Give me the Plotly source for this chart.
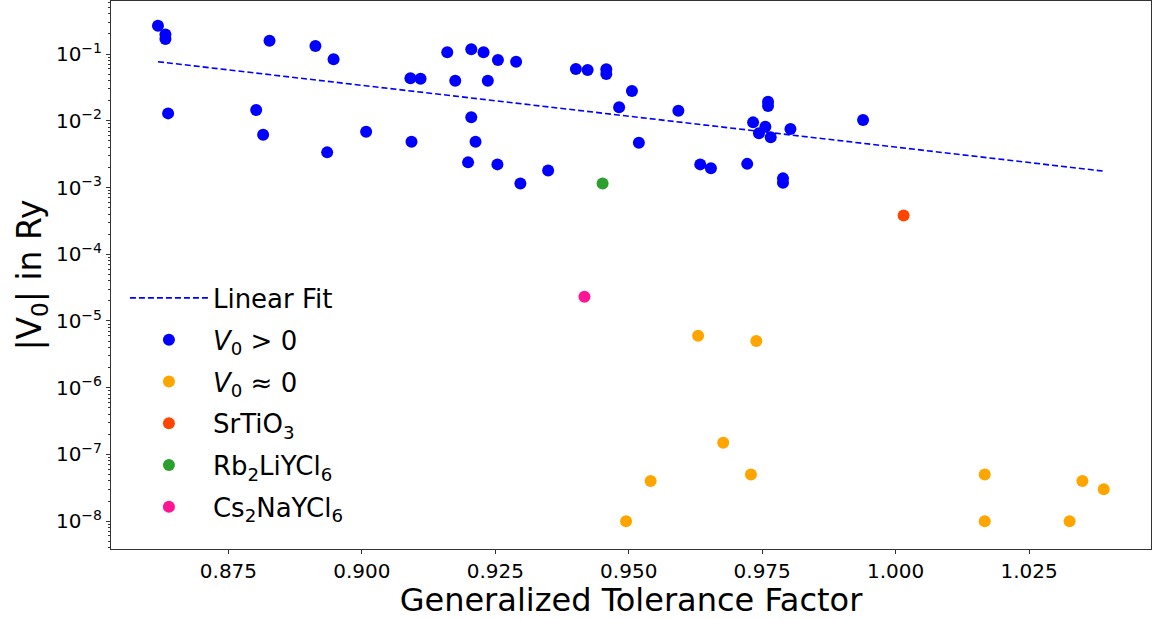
import plotly.graph_objects as go

# ---- data ----
blue_x = [0.8618, 0.8632, 0.8632, 0.8637, 0.8827, 0.8913, 0.8947, 0.8802, 0.8815, 0.8935,
          0.9008, 0.9091, 0.9110, 0.9093, 0.9160, 0.9205, 0.9228, 0.9255, 0.9175, 0.9236,
          0.9205, 0.9213, 0.9199, 0.9254, 0.9289, 0.9401, 0.9423, 0.9458, 0.9458, 0.9506,
          0.9482, 0.9593, 0.9519, 0.9297, 0.9349, 0.9634, 0.9654, 0.9722, 0.9789, 0.9789,
          0.9733, 0.9756, 0.9744, 0.9766, 0.9761, 0.9761, 0.9803, 0.9939]
blue_y = [0.265, 0.197, 0.168, 0.0129, 0.158, 0.132, 0.0833, 0.01445, 0.00617, 0.00336,
          0.00684, 0.0433, 0.0425, 0.00484, 0.106, 0.118, 0.106, 0.0813, 0.0398, 0.0398,
          0.01125, 0.00484, 0.00238, 0.00222, 0.0767, 0.0596, 0.0575, 0.059, 0.0501, 0.0279,
          0.0159, 0.0141, 0.00468, 0.00115, 0.0018, 0.00222, 0.00195, 0.00226, 0.00137, 0.00118,
          0.00946, 0.00813, 0.00648, 0.00564, 0.0193, 0.0166, 0.00752, 0.01024]

orange_x = [0.9495, 0.9541, 0.9630, 0.9677, 0.9729, 0.9739, 1.0167, 1.0167, 1.0350, 1.0390, 1.0326]
orange_y = [1e-8, 4e-8, 6e-6, 1.5e-7, 5e-8, 5e-6, 5e-8, 1e-8, 4e-8, 3e-8, 1e-8]

srtio3_x = [1.0015]
srtio3_y = [3.8e-4]
rb_x = [0.9451]
rb_y = [1.15e-3]
cs_x = [0.9417]
cs_y = [2.3e-5]

fit_x = [0.8618, 1.0389]
fit_y = [0.0767, 0.00176]

x_ticks = [0.875, 0.900, 0.925, 0.950, 0.975, 1.000, 1.025]
y_exps = [-8, -7, -6, -5, -4, -3, -2, -1]

FONT = "DejaVu Sans"
fig = go.Figure()

fig.add_trace(go.Scatter(x=fit_x, y=fit_y, mode="lines", name="Linear Fit",
                         line=dict(color="blue", width=1.6, dash="6px,3px"), legendgroup="a"))
fig.add_trace(go.Scatter(x=blue_x, y=blue_y, mode="markers", name="<i>V</i><sub>0</sub> > 0",
                         marker=dict(color="blue", size=12), legendgroup="b"))
fig.add_trace(go.Scatter(x=orange_x, y=orange_y, mode="markers", name="<i>V</i><sub>0</sub> ≈ 0",
                         marker=dict(color="orange", size=12), legendgroup="c"))
fig.add_trace(go.Scatter(x=srtio3_x, y=srtio3_y, mode="markers", name="SrTiO<sub>3</sub>",
                         marker=dict(color="orangered", size=12), legendgroup="d"))
fig.add_trace(go.Scatter(x=rb_x, y=rb_y, mode="markers", name="Rb<sub>2</sub>LiYCl<sub>6</sub>",
                         marker=dict(color="#2ca02c", size=12), legendgroup="e"))
fig.add_trace(go.Scatter(x=cs_x, y=cs_y, mode="markers", name="Cs<sub>2</sub>NaYCl<sub>6</sub>",
                         marker=dict(color="deeppink", size=12), legendgroup="f"))

fig.update_layout(
    width=1162, height=619,
    margin=dict(l=111, r=11, t=1, b=70),
    paper_bgcolor="white", plot_bgcolor="white",
    font=dict(family=FONT, color="black", size=20),
    showlegend=True,
    legend=dict(x=0.0134, y=0.501, xanchor="left", yanchor="top",
                font=dict(size=26, family=FONT), bgcolor="rgba(255,255,255,0)",
                tracegroupgap=5, itemwidth=78),
)
fig.update_xaxes(
    range=[0.8530, 1.04785], tickvals=x_ticks, ticktext=[f"{v:.3f}" for v in x_ticks],
    showline=True, linecolor="#333", linewidth=1, mirror=True,
    ticks="outside", ticklen=4, tickcolor="#333", showgrid=False, zeroline=False,
    tickfont=dict(size=20),
    title=dict(text="Generalized Tolerance Factor", font=dict(size=32), standoff=11),
)
fig.update_yaxes(
    type="log", range=[-8.417, -0.2054],
    tickvals=[10 ** e for e in y_exps],
    ticktext=[f"10<sup>−{-e}</sup>" for e in y_exps],
    showline=True, linecolor="#333", linewidth=1, mirror=True,
    ticks="outside", ticklen=4, tickcolor="#333", showgrid=False, zeroline=False,
    minor=dict(ticks="outside", ticklen=2, tickcolor="#333", dtick="D1", showgrid=False),
    tickfont=dict(size=20),
    title=dict(text="|V<sub>0</sub>| in Ry", font=dict(size=33), standoff=4),
)

fig.write_html("out.html")
